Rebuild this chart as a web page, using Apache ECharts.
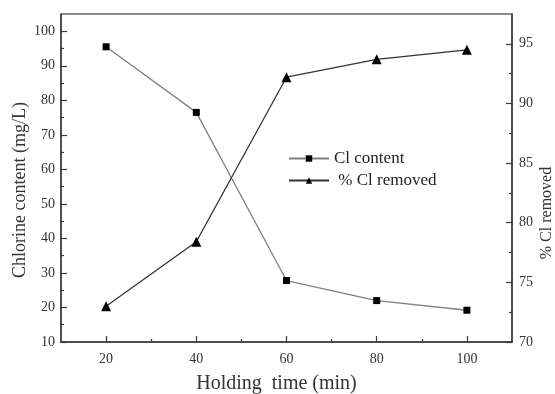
<!DOCTYPE html>
<html>
<head>
<meta charset="utf-8">
<script src="https://cdn.jsdelivr.net/npm/echarts@6/dist/echarts.min.js"></script>
<style>
  html, body { margin: 0; padding: 0; background: #fff; }
  #chart { width: 555px; height: 394px; }
</style>
</head>
<body>
<div id="chart"></div>
<script>
// Holding time (min)
const holdingTime = [20, 40, 60, 80, 100];
// Chlorine content (mg/L)
const clContent = [95.5, 76.5, 27.8, 22.0, 19.2];
// % Cl removed
const clRemoved = [73.0, 78.4, 92.2, 93.7, 94.5];

const xMajor = [20, 40, 60, 80, 100];
const xMinor = [30, 50, 70, 90];
const leftMajor = [10, 20, 30, 40, 50, 60, 70, 80, 90, 100];
const leftMinor = [15, 25, 35, 45, 55, 65, 75, 85, 95];
const rightMajor = [70, 75, 80, 85, 90, 95];
const rightMinor = [72.5, 77.5, 82.5, 87.5, 92.5];

const serif = 'Liberation Serif';
const axisColor = '#3a3a3a';
const textColor = '#333';

function baseAxis(extra) {
  return Object.assign({
    type: 'value',
    nameMoveOverlap: false,
    splitLine: { show: false },
    axisLine: { show: true, onZero: false, lineStyle: { color: axisColor, width: 1.5 } },
    axisLabel: { color: textColor, fontFamily: serif, fontSize: 14 }
  }, extra);
}

// Shorter inner ticks between the labelled ones
function minorAxis(extra, values) {
  return Object.assign({
    type: 'value',
    splitLine: { show: false },
    axisLine: { show: false, onZero: false },
    axisLabel: { show: false },
    axisTick: { show: true, inside: true, length: 3, customValues: values,
      lineStyle: { color: axisColor, width: 1.2 } }
  }, extra);
}

const chart = echarts.init(document.getElementById('chart'));
chart.setOption({
  backgroundColor: '#fff',
  animation: false,
  grid: {
    left: 61, right: 43, top: 14, bottom: 52,
    outerBoundsMode: 'none', containLabel: false,
    show: true, borderColor: '#666', borderWidth: 1.5
  },
  legend: {
    orient: 'vertical',
    left: 283,
    top: 145,
    itemWidth: 40,
    itemHeight: 8,
    itemGap: 5,
    textStyle: { color: '#222', fontFamily: serif, fontSize: 17 },
    formatter: name => name === '% Cl removed' ? ' ' + name : name,
    data: ['Cl content', '% Cl removed']
  },
  xAxis: [
    baseAxis({
      position: 'bottom', min: 10, max: 110,
      name: 'Holding  time (min)', nameLocation: 'middle', nameGap: 32,
      nameTextStyle: { color: textColor, fontFamily: serif, fontSize: 20, padding: [0, 20, 0, 0] },
      axisTick: { show: true, inside: true, length: 6, customValues: xMajor,
        lineStyle: { color: axisColor, width: 1.2 } },
      axisLabel: { color: textColor, fontFamily: serif, fontSize: 14, margin: 10, customValues: xMajor }
    }),
    minorAxis({ position: 'bottom', min: 10, max: 110 }, xMinor)
  ],
  yAxis: [
    baseAxis({
      position: 'left', min: 10, max: 105,
      name: 'Chlorine content (mg/L)', nameLocation: 'middle', nameGap: 32, nameRotate: 90,
      nameTextStyle: { color: textColor, fontFamily: serif, fontSize: 18, padding: [0, 24, 0, 0] },
      axisTick: { show: true, inside: true, length: 6, customValues: leftMajor,
        lineStyle: { color: axisColor, width: 1.2 } },
      axisLabel: { color: textColor, fontFamily: serif, fontSize: 14, margin: 6, customValues: leftMajor }
    }),
    minorAxis({ position: 'left', min: 10, max: 105 }, leftMinor),
    baseAxis({
      position: 'right', min: 70, max: 97.5,
      name: '% Cl removed', nameLocation: 'middle', nameGap: 27, nameRotate: 90,
      nameTextStyle: { color: textColor, fontFamily: serif, fontSize: 16, padding: [0, 70, 0, 0] },
      axisTick: { show: true, inside: true, length: 6, customValues: rightMajor,
        lineStyle: { color: axisColor, width: 1.2 } },
      axisLabel: { color: textColor, fontFamily: serif, fontSize: 14, margin: 7, customValues: rightMajor }
    }),
    minorAxis({ position: 'right', min: 70, max: 97.5 }, rightMinor)
  ],
  series: [
    {
      name: 'Cl content',
      type: 'line',
      xAxisIndex: 0,
      yAxisIndex: 0,
      data: holdingTime.map((t, i) => [t, clContent[i]]),
      symbol: 'rect',
      symbolSize: 7,
      itemStyle: { color: '#000' },
      lineStyle: { color: '#808080', width: 1.3 }
    },
    {
      name: '% Cl removed',
      type: 'line',
      xAxisIndex: 0,
      yAxisIndex: 2,
      data: holdingTime.map((t, i) => [t, clRemoved[i]]),
      symbol: 'triangle',
      symbolSize: 10,
      itemStyle: { color: '#000' },
      lineStyle: { color: '#333', width: 1.3 }
    }
  ]
});
</script>
</body>
</html>
